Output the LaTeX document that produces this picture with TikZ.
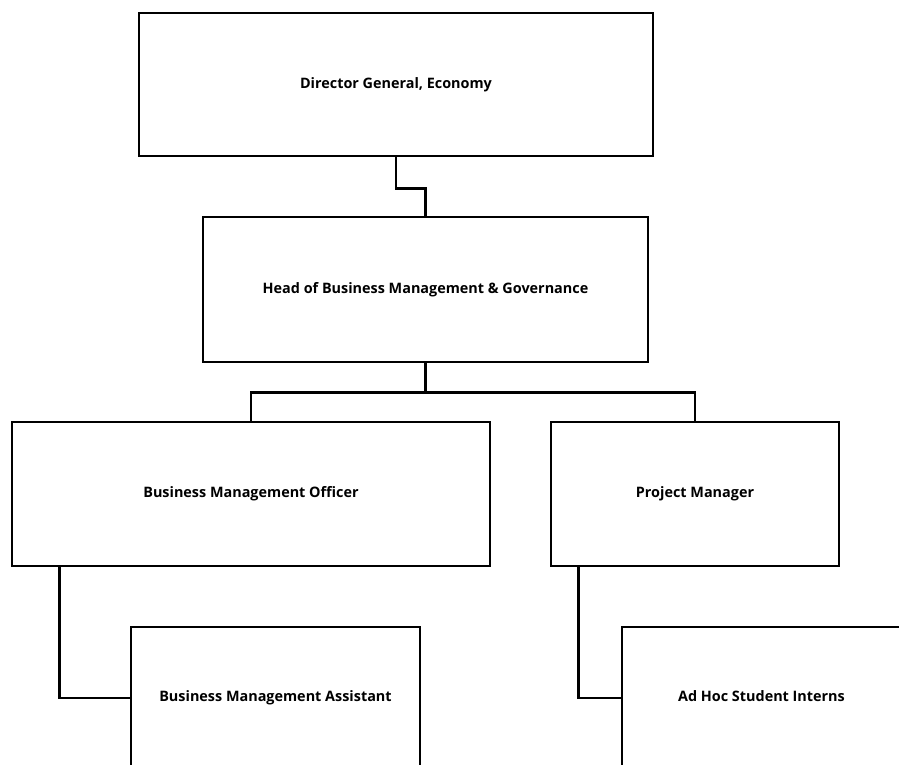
\documentclass[tikz,border=0pt]{standalone}
\usepackage{fontspec}
\setmainfont{Open Sans}
\tikzset{
  postbox/.style={draw=black, line width=2.6pt, fill=white, inner sep=0pt,
    text height=0.88em, text depth=0.12em,
    font=\fontsize{14.4}{17}\selectfont\bfseries},
  orgline/.style={draw=black, line width=2.6pt}
}
\begin{document}
\begin{tikzpicture}[x=1pt, y=-1pt]
			\useasboundingbox (0,0) rectangle (899,765);
			\clip (0,0) rectangle (899,765);
			\fill[white] (0,0) rectangle (899,765);

			% 职位方框
			\node[postbox, minimum width=514pt, minimum height=143pt] (dg) at (396,84.5) {Director General, Economy};
			\node[postbox, minimum width=445pt, minimum height=145pt] (hb) at (425.5,289.5) {Head of Business Management \& Governance};
			\node[postbox, minimum width=478pt, minimum height=144pt] (bmo) at (251,494) {Business Management Officer};
			\node[postbox, minimum width=288pt, minimum height=144pt] (pm) at (695,494) {Project Manager};
			\node[postbox, minimum width=289pt, minimum height=142pt] (bma) at (275.5,698) {Business Management Assistant};
			\node[postbox, minimum width=279pt, minimum height=142pt] (ahs) at (761.5,698) {Ad Hoc Student Interns};

			% 连线
			\draw[orgline] (dg.south) -- ++(0,31) -| (hb.north);
			\draw[orgline] (hb.south) -- ++(0,29) coordinate (br);
			\draw[orgline] (bmo.north) |- (br) -| (pm.north);
			\draw[orgline] ([xshift=49pt]bmo.south west) |- (bma.west);
			\draw[orgline] ([xshift=29pt]pm.south west) |- (ahs.west);
		\end{tikzpicture}
\end{document}
